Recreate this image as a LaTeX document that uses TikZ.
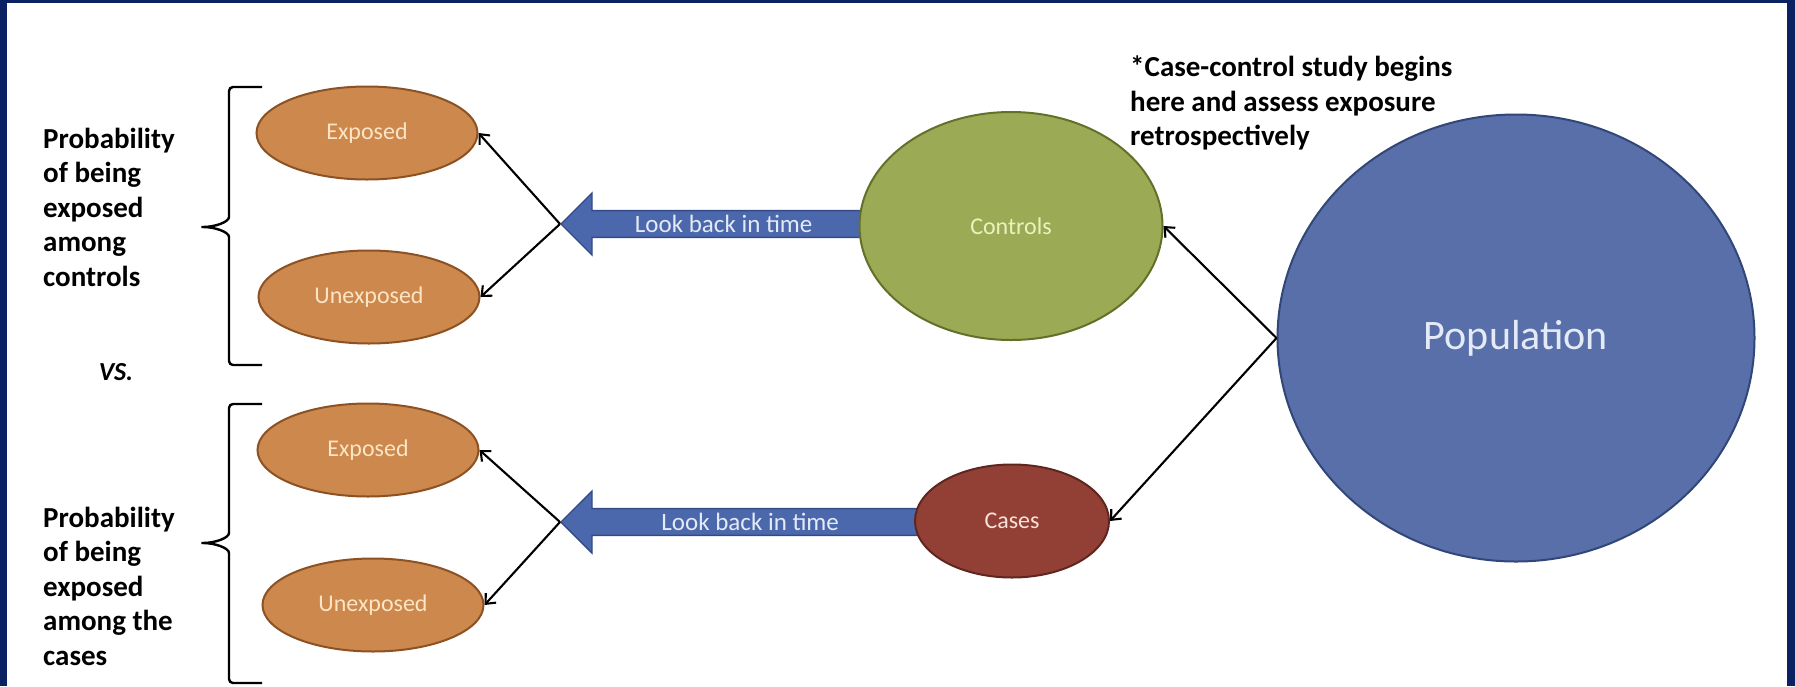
\documentclass[tikz,border=0pt]{standalone}
\usepackage{fontspec}
\setmainfont{Carlito}
\usepackage{tikz}
\usetikzlibrary{shapes.geometric,shapes.arrows,arrows.meta,positioning}

\definecolor{frameblue}{RGB}{10,34,98}
\definecolor{orangefill}{RGB}{204,136,77}
\definecolor{orangeline}{RGB}{140,82,35}
\definecolor{orangetext}{RGB}{252,228,196}
\definecolor{greenfill}{RGB}{155,170,85}
\definecolor{greenline}{RGB}{100,112,42}
\definecolor{greentext}{RGB}{236,242,190}
\definecolor{redfill}{RGB}{146,64,54}
\definecolor{redline}{RGB}{95,38,32}
\definecolor{redtext}{RGB}{248,225,215}
\definecolor{popfill}{RGB}{88,111,170}
\definecolor{popline}{RGB}{50,70,120}
\definecolor{poptext}{RGB}{228,234,246}
\definecolor{arrowfill}{RGB}{76,104,172}
\definecolor{arrowline}{RGB}{52,74,135}

\tikzset{
    blob/.style={ellipse, inner sep=0pt, line width=2pt},
    expo/.style={blob, fill=orangefill, draw=orangeline, text=orangetext,
        minimum width=221pt, minimum height=93pt, font=\fontsize{24}{28}\selectfont},
    lookback/.style={single arrow, shape border rotate=180, fill=arrowfill, draw=arrowline,
        line width=1.4pt, text=poptext, minimum width=62pt, single arrow head extend=15pt,
        single arrow tip angle=90, inner sep=2pt, font=\fontsize{25}{28}\selectfont},
    link/.style={line width=2.1pt, -{Straight Barb[length=8pt,width=14pt]}},
    boldtext/.style={align=left, inner sep=0pt, font=\bfseries\fontsize{29}{34.5}\selectfont},
    bracket/.style={line width=2.4pt, rounded corners=4pt}
}

\begin{document}
\begin{tikzpicture}[x=1pt,y=-1pt]
\useasboundingbox (0,0) rectangle (1795,686);
\fill[frameblue] (0,0) rectangle (1795,686); % frame
\fill[white] (7,3) rectangle (1787,686); % slide

%%% LOOK BACK ARROWS %%%
\node[lookback, minimum height=312pt, anchor=tip] (lookC) at (560,224) {Look back in time};
\node[lookback, minimum height=365pt, anchor=tip] (lookK) at (560,522) {Look back in time};

%%% GROUPS %%%
\node[blob, fill=greenfill, draw=greenline, text=greentext, minimum width=303pt, minimum height=228pt,
    font=\fontsize{24}{28}\selectfont] (controls) at (1011,226) {Controls};
\node[blob, fill=redfill, draw=redline, text=redtext, minimum width=194pt, minimum height=113pt,
    font=\fontsize{24}{28}\selectfont] (cases) at (1012,521) {Cases};
\node[blob, fill=popfill, draw=popline, text=poptext, minimum width=477pt, minimum height=447pt,
    font=\fontsize{42}{48}\selectfont] (population) at (1516,338) {Population};

%%% EXPOSURE %%%
\node[expo] (expC) at (367,133) {Exposed};
\node[expo] (unexpC) at (369,297) {Unexposed};
\node[expo] (expK) at (368,450) {Exposed};
\node[expo] (unexpK) at (373,605) {Unexposed};

%%% CONNECTORS %%%
\draw[link] (population.west) -- (controls.east);
\draw[link] (population.west) -- (cases.east);
\draw[link] (lookC.tip) -- (expC.east);
\draw[link] (lookC.tip) -- (unexpC.east);
\draw[link] (lookK.tip) -- (expK.east);
\draw[link] (lookK.tip) -- (unexpK.east);

%%% BRACKETS %%%
\draw[bracket] (262,87) -- (229,87) -- (229,213) .. controls (229,222) and (215,227) .. (199,227)
    .. controls (215,227) and (229,232) .. (229,241) -- (229,365) -- (262,365); % upper bracket
\draw[bracket] (262,404) -- (229,404) -- (229,529) .. controls (229,538) and (215,543) .. (199,543)
    .. controls (215,543) and (229,548) .. (229,557) -- (229,683) -- (262,683); % lower bracket

%%% TEXTS %%%
\node[boldtext, anchor=west] (probC) at (43,207) {Probability\\of being\\exposed\\among\\controls};
\node[boldtext, anchor=west] (probK) at (43,586) {Probability\\of being\\exposed\\among the\\cases};
\node[inner sep=0pt, font=\bfseries\itshape\fontsize{26}{30}\selectfont] (vs) at (116,372) {VS.};
\node[boldtext, anchor=north west] (note) at (1130,56) {*Case-control study begins\\here and assess exposure\\retrospectively};
\end{tikzpicture}
\end{document}
